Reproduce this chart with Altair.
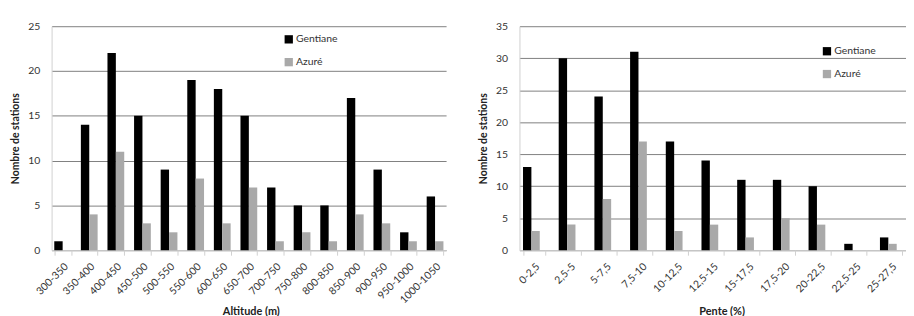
import altair as alt
import pandas as pd

alt_cats = ["300-350", "350-400", "400-450", "450-500", "500-550", "550-600", "600-650",
            "650-700", "700-750", "750-800", "800-850", "850-900", "900-950", "950-1000", "1000-1050"]
alt_gentiane = [1, 14, 22, 15, 9, 19, 18, 15, 7, 5, 5, 17, 9, 2, 6]
alt_azure = [0, 4, 11, 3, 2, 8, 3, 7, 1, 2, 1, 4, 3, 1, 1]

pente_cats = ["0-2,5", "2,5-5", "5-7,5", "7,5-10", "10-12,5", "12,5-15", "15-17,5",
              "17,5-20", "20-22,5", "22,5-25", "25-27,5"]
pente_gentiane = [13, 30, 24, 31, 17, 14, 11, 11, 10, 1, 2]
pente_azure = [3, 4, 8, 17, 3, 4, 2, 5, 4, 0, 1]

series = ["Gentiane", "Azuré"]
colors = ["#000000", "#a9a9a9"]
FONT = "Lato"


def long_df(cats, g, a):
    rows = []
    for c, gv, av in zip(cats, g, a):
        rows.append({"cat": c, "serie": "Gentiane", "val": gv})
        rows.append({"cat": c, "serie": "Azuré", "val": av})
    return pd.DataFrame(rows)


def panel(cats, g, a, xtitle, ymax, width, legx, legy, xtpad, xtx):
    df = long_df(cats, g, a)
    return alt.Chart(df).mark_bar().encode(
        x=alt.X("cat:N", sort=cats, title=xtitle,
                scale=alt.Scale(paddingInner=0.37, paddingOuter=0.1),
                axis=alt.Axis(labelAngle=-45, labelFontSize=10.5, labelColor="#333333",
                              labelFont=FONT, labelPadding=6,
                              titleFont=FONT, titleFontSize=11, titleFontWeight="bold",
                              titleColor="#222222", titlePadding=xtpad, titleX=xtx,
                              domainColor="#d0d0d0", tickColor="#d0d0d0", tickSize=5,
                              tickBand="extent")),
        xOffset=alt.XOffset("serie:N", sort=series,
                            scale=alt.Scale(domain=series, paddingInner=0, paddingOuter=0)),
        y=alt.Y("val:Q", title="Nombre de stations",
                scale=alt.Scale(domain=[0, ymax], nice=False),
                axis=alt.Axis(values=list(range(0, ymax + 1, 5)), grid=True,
                              gridColor="#808080", gridWidth=1, ticks=False,
                              domainColor="#d0d0d0", labelFontSize=10.5,
                              labelColor="#333333", labelFont=FONT, labelPadding=12,
                              minExtent=24, maxExtent=24, titlePadding=7,
                              titleFont=FONT, titleFontSize=10.5, titleFontWeight="bold",
                              titleColor="#222222")),
        color=alt.Color("serie:N", sort=series,
                        scale=alt.Scale(domain=series, range=colors),
                        legend=alt.Legend(title=None, orient="none", legendX=legx, legendY=legy,
                                          symbolType="square", symbolSize=70,
                                          symbolStrokeWidth=0, labelFont=FONT,
                                          labelFontSize=10.5, labelColor="#333333",
                                          rowPadding=12, labelOffset=2)),
    ).properties(width=width, height=226)


left = panel(alt_cats, alt_gentiane, alt_azure, "Altitude (m)", 25, 398, 234, 8, 0, 201)
right = panel(pente_cats, pente_gentiane, pente_azure, "Pente (%)", 35, 390, 305, 20, 11, 204)

chart = alt.hconcat(left, right, spacing=33).resolve_scale(
    color="independent", x="independent", y="independent"
).resolve_legend(color="independent").properties(
    padding={"left": 3, "top": 12, "right": 0, "bottom": 0}
).configure_view(stroke=None)

chart.save("out.html", embed_options={"renderer": "svg", "actions": False})
